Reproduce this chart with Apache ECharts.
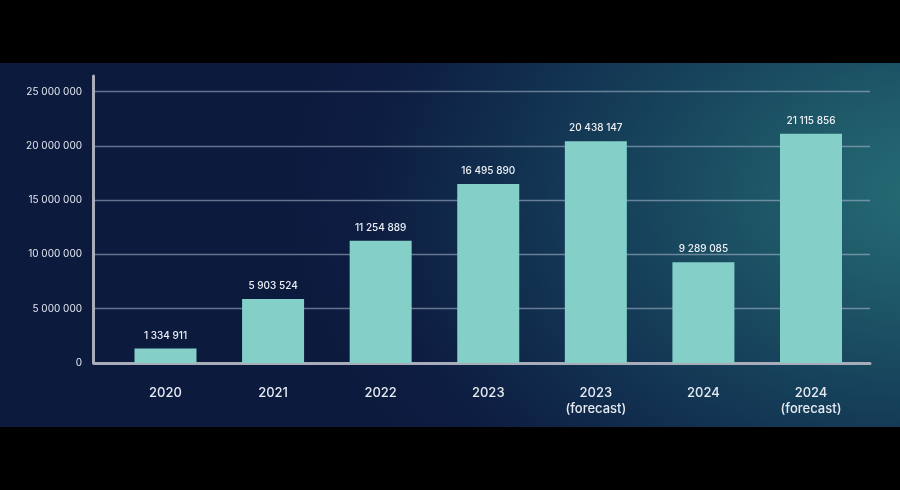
<!DOCTYPE html>
<html><head><meta charset="utf-8">
<script src="https://cdn.jsdelivr.net/npm/echarts@6/dist/echarts.min.js"></script>
<style>
html,body{margin:0;padding:0;background:#000;width:900px;height:490px;overflow:hidden}
#bg{position:absolute;left:0;top:63px;width:900px;height:364px;background-color:#0c1a3e;
background-image:radial-gradient(ellipse 640px 430px at 930px 130px,#256c75 0%,#1f5a69 22%,#17445c 45%,#112e4f 68%,#0d1d41 88%,#0c1a3e 100%);}
#chart{position:absolute;left:0;top:0;width:900px;height:490px}
</style></head>
<body><div id="bg"></div><div id="chart"></div>
<script>
const categories = ['2020','2021','2022','2023','2023\n(forecast)','2024','2024\n(forecast)'];
const values = [1334911, 5903524, 11254889, 16495890, 20438147, 9289085, 21115856];
const yTicks = {min: 0, max: 25000000, interval: 5000000};

function fmt(v){ return String(Math.round(v)).replace(/\B(?=(\d{3})+(?!\d))/g,' '); }
const font = 'Inter, "Noto Sans", sans-serif';
const chart = echarts.init(document.getElementById('chart'), null, {renderer:'canvas'});
chart.setOption({
  backgroundColor: 'transparent',
  animation: false,
  grid: [
    {left: 111.7, right: 35.2, top: 91.7, bottom: 127},
    {left: 94, right: 30, top: 91.7, bottom: 127},
    {left: 93.5, right: 30, top: 76, bottom: 127}
  ],
  xAxis: [
    {type:'category', gridIndex:0, data: categories,
     axisLine:{show:false}, axisTick:{show:false},
     axisLabel:{color:'#e6ebf2', fontFamily:font, fontSize:13, fontWeight:500, lineHeight:16, margin:22}},
    {type:'value', gridIndex:1, min:0, max:1,
     axisLine:{show:true, onZero:false, lineStyle:{color:'#a9adba', width:3}},
     axisTick:{show:false}, axisLabel:{show:false}, splitLine:{show:false}},
    {type:'value', gridIndex:2, min:0, max:1, show:false}
  ],
  yAxis: [
    {type:'value', gridIndex:0, min:yTicks.min, max:yTicks.max, interval:yTicks.interval, show:false},
    {type:'value', gridIndex:1, min:yTicks.min, max:yTicks.max, interval:yTicks.interval,
     axisLine:{show:false}, axisTick:{show:false},
     axisLabel:{color:'#e3e8f0', fontFamily:font, fontSize:10, margin:12, formatter: fmt},
     splitLine:{show:true, lineStyle:{color:'rgba(175,188,210,0.55)', width:1.3}}},
    {type:'value', gridIndex:2, min:0, max:1,
     axisLine:{show:true, lineStyle:{color:'#a9adba', width:3}},
     axisTick:{show:false}, axisLabel:{show:false}, splitLine:{show:false}}
  ],
  series: [{
    type:'bar', xAxisIndex:0, yAxisIndex:0, data: values, barWidth: 62,
    itemStyle:{color:'#84d0c8'},
    label:{show:true, position:'top', distance:8, color:'#eef2f6', fontFamily:font, fontSize:10, fontWeight:500,
      formatter: p => fmt(p.value)},
    z: 10
  }]
});
</script></body></html>
